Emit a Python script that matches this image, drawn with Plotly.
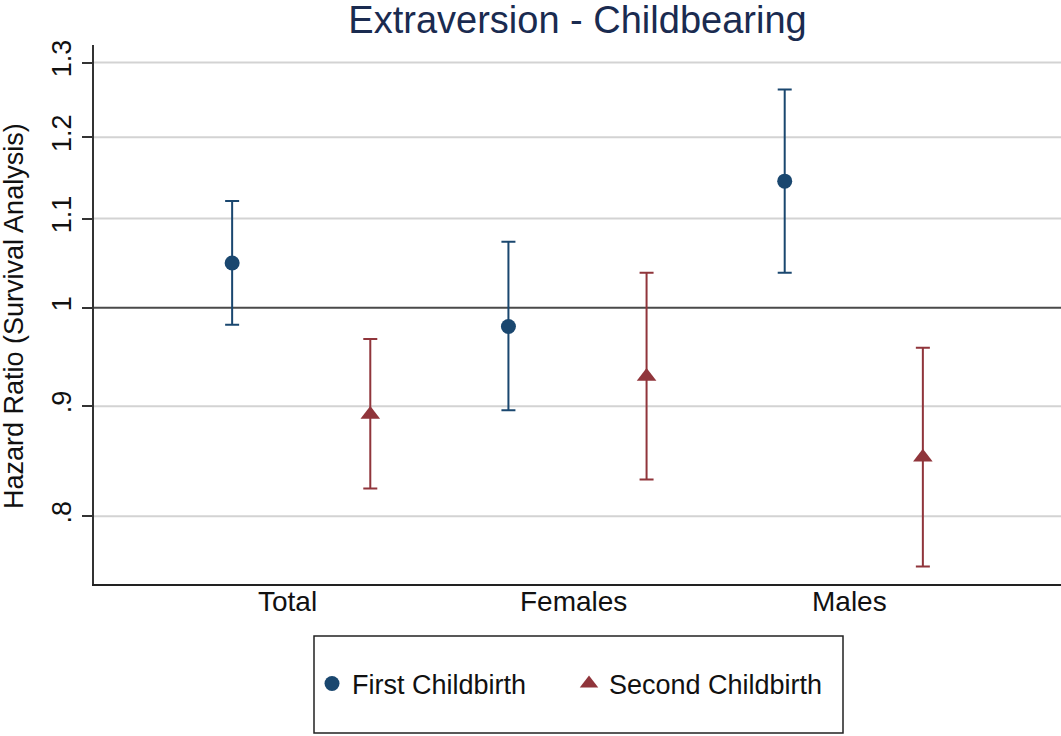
import math
import plotly.graph_objects as go

groups = ["Total", "Females", "Males"]
series_names = ["First Childbirth", "Second Childbirth"]

hr_first = [1.049, 0.980, 1.145]
lo_first = [0.982, 0.896, 1.038]
hi_first = [1.121, 1.073, 1.263]

hr_second = [0.892, 0.929, 0.852]
lo_second = [0.824, 0.832, 0.758]
hi_second = [0.967, 1.038, 0.958]

x_first = [1, 3, 5]
x_second = [2, 4, 6]
label_pos = [1.4, 3.47, 5.47]

y_ticks = [0.8, 0.9, 1.0, 1.1, 1.2, 1.3]
y_ticktext = [".8", ".9", "1", "1.1", "1.2", "1.3"]
ref_value = 1.0

NAVY = "#1a476f"
MAROON = "#90353b"
FONT = "Arial, Liberation Sans, sans-serif"

fig = go.Figure()
fig.add_trace(go.Scatter(
    x=x_first, y=hr_first, mode="markers", name=series_names[0],
    marker=dict(symbol="circle", size=15, color=NAVY),
    error_y=dict(type="data", symmetric=False,
                 array=[h - v for h, v in zip(hi_first, hr_first)],
                 arrayminus=[v - l for v, l in zip(hr_first, lo_first)],
                 color=NAVY, thickness=2, width=7),
))
fig.add_trace(go.Scatter(
    x=x_second, y=hr_second, mode="markers", name=series_names[1],
    marker=dict(symbol="triangle-up", size=17, color=MAROON),
    error_y=dict(type="data", symmetric=False,
                 array=[h - v for h, v in zip(hi_second, hr_second)],
                 arrayminus=[v - l for v, l in zip(hr_second, lo_second)],
                 color=MAROON, thickness=2, width=7),
))

# gridlines (except the reference line)
for v in y_ticks:
    if v != ref_value:
        fig.add_shape(type="line", xref="paper", x0=0, x1=1, yref="y", y0=v, y1=v,
                      line=dict(color="#d3d3d3", width=2), layer="below")

# reference line at 1
fig.add_shape(type="line", xref="paper", x0=0, x1=1, yref="y", y0=ref_value, y1=ref_value,
              line=dict(color="#4a4a4a", width=2), layer="below")

# legend box
fig.add_shape(type="rect", xref="paper", yref="paper",
              x0=(314 - 94) / 967, x1=(843 - 94) / 967,
              y0=(584 - 733) / 539, y1=(584 - 636) / 539,
              line=dict(color="#222222", width=1.5), fillcolor="rgba(0,0,0,0)")

fig.update_layout(
    width=1061, height=736,
    margin=dict(l=94, r=0, t=45, b=152, autoexpand=False),
    paper_bgcolor="white", plot_bgcolor="white",
    font=dict(family=FONT, size=27, color="#111111"),
    title=dict(text="Extraversion - Childbearing", x=0.5, xref="paper",
               y=0.973, yref="container", yanchor="middle",
               font=dict(family=FONT, size=38, color="#1a2b50")),
    showlegend=True,
    legend=dict(orientation="h", x=(312 - 94) / 967, xanchor="left",
                y=(584 - 684) / 539, yanchor="middle", yref="paper",
                bgcolor="rgba(0,0,0,0)", borderwidth=0,
                font=dict(family=FONT, size=27, color="#111111"),
                entrywidth=212, itemsizing="trace"),
    xaxis=dict(range=[0, 7], tickmode="array", tickvals=label_pos, ticktext=groups,
               showticklabels=False,
               showgrid=False, zeroline=False, showline=True, linecolor="#222222",
               linewidth=2, ticks="", automargin=False),
    yaxis=dict(type="log", range=[math.log10(0.744), math.log10(1.3246)],
               tickmode="array", tickvals=y_ticks, ticktext=y_ticktext,
               tickangle=-90, showgrid=False,
               zeroline=False, showline=True, linecolor="#333333", linewidth=1.5,
               ticks="outside", ticklen=10, tickwidth=1.5, tickcolor="#333333",
               automargin=False,
               tickfont=dict(size=27, color="#111111")),
)

# x category labels
for pos, lab in zip(label_pos, groups):
    fig.add_annotation(text=lab, xref="x", yref="paper", x=pos, y=0,
                       xanchor="center", yanchor="top", showarrow=False,
                       font=dict(family=FONT, size=28, color="#111111"))

fig.add_annotation(text="Hazard Ratio (Survival Analysis)", xref="paper", yref="paper",
                   x=-97 / 967, y=(584 - 316) / 539, xanchor="left", yanchor="middle",
                   textangle=-90, showarrow=False,
                   font=dict(family=FONT, size=27, color="#111111"))

fig.write_html("out.html", config={"displayModeBar": False},
               post_script="document.body.style.margin='0px';document.body.style.overflow='hidden';")
